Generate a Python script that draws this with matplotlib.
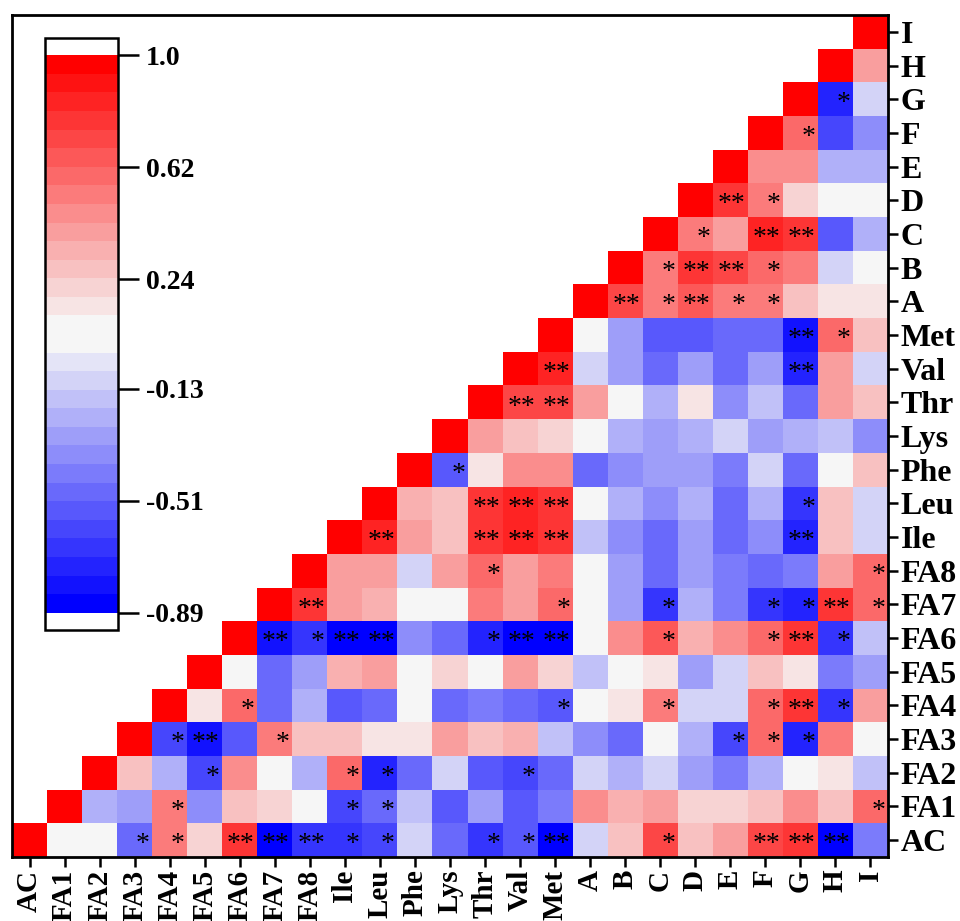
import numpy as np
import matplotlib
matplotlib.use("Agg")
import matplotlib.pyplot as plt
from matplotlib.colors import ListedColormap, BoundaryNorm
from matplotlib.font_manager import FontProperties

labels = ["AC", "FA1", "FA2", "FA3", "FA4", "FA5", "FA6", "FA7", "FA8",
          "Ile", "Leu", "Phe", "Lys", "Thr", "Val", "Met",
          "A", "B", "C", "D", "E", "F", "G", "H", "I"]

# upper triangle, row by row: correlations of row variable with the variables after it
r_AC = [0.05, 0.05, -0.5, 0.55, 0.2, 0.8, -0.85, -0.7, -0.65, -0.6, -0.08, -0.45,
        -0.7, -0.55, -0.85, -0.1, 0.3, 0.7, 0.25, 0.4, 0.72, 0.75, -0.88, -0.4]
r_FA1 = [-0.25, -0.3, 0.5, -0.35, 0.3, 0.2, 0.05, -0.6, -0.5, -0.15, -0.55, -0.3,
         -0.55, -0.4, 0.45, 0.35, 0.4, 0.2, 0.2, 0.3, 0.45, 0.25, 0.6]
r_FA2 = [0.3, -0.25, -0.6, 0.45, 0.05, -0.2, 0.6, -0.72, -0.5, -0.12, -0.55, -0.62,
         -0.5, -0.1, -0.25, -0.12, -0.3, -0.4, -0.2, 0.05, 0.18, -0.15]
r_FA3 = [-0.6, -0.78, -0.55, 0.5, 0.3, 0.25, 0.15, 0.15, 0.38, 0.25, 0.33, -0.15,
         -0.35, -0.5, 0.05, -0.2, -0.6, 0.6, -0.72, 0.55, 0.05]
r_FA4 = [0.15, 0.6, -0.45, -0.25, -0.55, -0.5, 0.05, -0.5, -0.4, -0.45, -0.55,
         0.05, 0.15, 0.55, -0.1, -0.1, 0.6, 0.78, -0.7, 0.4]
r_FA5 = [0.05, -0.45, -0.3, 0.35, 0.4, 0.05, 0.2, 0.05, 0.4, 0.2, -0.15, 0.05,
         0.15, -0.3, -0.1, 0.3, 0.15, -0.4, -0.3]
r_FA6 = [-0.8, -0.65, -0.85, -0.85, -0.35, -0.45, -0.75, -0.85, -0.88, 0.05, 0.45,
         0.65, 0.35, 0.45, 0.6, 0.8, -0.65, -0.15]
r_FA7 = [0.75, 0.4, 0.35, 0.05, 0.05, 0.5, 0.4, 0.6, 0.05, -0.3, -0.65, -0.2, -0.4,
         -0.65, -0.72, 0.78, 0.6]
r_FA8 = [0.4, 0.4, -0.1, 0.4, 0.6, 0.42, 0.5, 0.05, -0.3, -0.5, -0.3, -0.4, -0.45,
         -0.4, 0.4, 0.6]
r_Ile = [0.85, 0.4, 0.3, 0.75, 0.85, 0.8, -0.15, -0.35, -0.5, -0.3, -0.5, -0.35,
         -0.75, 0.3, -0.1]
r_Leu = [0.35, 0.3, 0.75, 0.82, 0.78, 0.05, -0.2, -0.35, -0.2, -0.45, -0.2, -0.7,
         0.3, -0.1]
r_Phe = [-0.55, 0.15, 0.45, 0.45, -0.45, -0.35, -0.3, -0.3, -0.4, -0.12, -0.45,
         0.05, 0.25]
r_Lys = [0.4, 0.3, 0.22, 0.05, -0.22, -0.3, -0.22, -0.12, -0.3, -0.22, -0.15, -0.35]
r_Thr = [0.7, 0.7, 0.38, 0.05, -0.2, 0.12, -0.35, -0.15, -0.5, 0.38, 0.25]
r_Val = [0.85, -0.1, -0.3, -0.45, -0.28, -0.45, -0.28, -0.75, 0.38, -0.1]
r_Met = [0.05, -0.3, -0.55, -0.55, -0.45, -0.45, -0.82, 0.6, 0.3]
r_A = [0.7, 0.55, 0.65, 0.5, 0.55, 0.3, 0.18, 0.18]
r_B = [0.55, 0.75, 0.72, 0.6, 0.5, -0.1, 0.05]
r_C = [0.5, 0.42, 0.85, 0.75, -0.55, -0.25]
r_D = [0.75, 0.55, 0.22, 0.05, 0.05]
r_E = [0.45, 0.45, -0.25, -0.25]
r_F = [0.62, -0.6, -0.35]
r_G = [-0.75, -0.1]
r_H = [0.4]

rows = [r_AC, r_FA1, r_FA2, r_FA3, r_FA4, r_FA5, r_FA6, r_FA7, r_FA8, r_Ile, r_Leu,
        r_Phe, r_Lys, r_Thr, r_Val, r_Met, r_A, r_B, r_C, r_D, r_E, r_F, r_G, r_H, []]

# significance marks: (row, column, mark)
stars = [
    ("AC", "FA3", "*"), ("AC", "FA4", "*"), ("AC", "FA6", "**"), ("AC", "FA7", "**"),
    ("AC", "FA8", "**"), ("AC", "Ile", "*"), ("AC", "Leu", "*"), ("AC", "Thr", "*"),
    ("AC", "Val", "*"), ("AC", "Met", "**"), ("AC", "C", "*"), ("AC", "F", "**"),
    ("AC", "G", "**"), ("AC", "H", "**"),
    ("FA1", "FA4", "*"), ("FA1", "Ile", "*"), ("FA1", "Leu", "*"), ("FA1", "I", "*"),
    ("FA2", "FA5", "*"), ("FA2", "Ile", "*"), ("FA2", "Leu", "*"), ("FA2", "Val", "*"),
    ("FA3", "FA4", "*"), ("FA3", "FA5", "**"), ("FA3", "FA7", "*"), ("FA3", "E", "*"),
    ("FA3", "F", "*"), ("FA3", "G", "*"),
    ("FA4", "FA6", "*"), ("FA4", "Met", "*"), ("FA4", "C", "*"), ("FA4", "F", "*"),
    ("FA4", "G", "**"), ("FA4", "H", "*"),
    ("FA6", "FA7", "**"), ("FA6", "FA8", "*"), ("FA6", "Ile", "**"), ("FA6", "Leu", "**"),
    ("FA6", "Thr", "*"), ("FA6", "Val", "**"), ("FA6", "Met", "**"), ("FA6", "C", "*"),
    ("FA6", "F", "*"), ("FA6", "G", "**"), ("FA6", "H", "*"),
    ("FA7", "FA8", "**"), ("FA7", "Met", "*"), ("FA7", "C", "*"), ("FA7", "F", "*"),
    ("FA7", "G", "*"), ("FA7", "H", "**"), ("FA7", "I", "*"),
    ("FA8", "Thr", "*"), ("FA8", "I", "*"),
    ("Ile", "Leu", "**"), ("Ile", "Thr", "**"), ("Ile", "Val", "**"), ("Ile", "Met", "**"),
    ("Ile", "G", "**"),
    ("Leu", "Thr", "**"), ("Leu", "Val", "**"), ("Leu", "Met", "**"), ("Leu", "G", "*"),
    ("Phe", "Lys", "*"),
    ("Thr", "Val", "**"), ("Thr", "Met", "**"),
    ("Val", "Met", "**"), ("Val", "G", "**"),
    ("Met", "G", "**"), ("Met", "H", "*"),
    ("A", "B", "**"), ("A", "C", "*"), ("A", "D", "**"), ("A", "E", "*"), ("A", "F", "*"),
    ("B", "C", "*"), ("B", "D", "**"), ("B", "E", "**"), ("B", "F", "*"),
    ("C", "D", "*"), ("C", "F", "**"), ("C", "G", "**"),
    ("D", "E", "**"), ("D", "F", "*"),
    ("F", "G", "*"), ("G", "H", "*"),
]

cbar_ticks = [1.0, 0.62, 0.24, -0.13, -0.51, -0.89]

# build matrix
n = len(labels)
M = np.full((n, n), np.nan)
for i, r in enumerate(rows):
    M[i, i] = 1.0
    for k, v in enumerate(r):
        M[i, i + 1 + k] = v

# discrete blue-white-red colormap, 30 levels
nlev = 30
half = nlev // 2
blue = np.array([0.0, 0.0, 1.0])
red = np.array([1.0, 0.0, 0.0])
mid = np.array([0.965, 0.965, 0.965])
cols = []
for k in range(half):
    t = k / (half - 1)
    cols.append((1 - t) * blue + t * mid)
for k in range(half):
    t = k / (half - 1)
    cols.append((1 - t) * mid + t * red)
cmap = ListedColormap(cols)
cmap.set_over("white")
cmap.set_under("white")
cmap.set_bad("white")
bounds = np.linspace(-0.89, 1.0, nlev + 1)
norm = BoundaryNorm(bounds, nlev)

fig = plt.figure(figsize=(9.6, 9.21), dpi=100)
W, H = 960, 921
ax = fig.add_axes([12 / W, (H - 857) / H, 876 / W, 842 / H])

data = np.ma.masked_invalid(np.clip(M, -0.889, 0.999))
ax.pcolormesh(np.arange(n + 1), np.arange(n + 1), data, cmap=cmap, norm=norm)
ax.set_xlim(0, n)
ax.set_ylim(0, n)

for (rl, cl, mark) in stars:
    i = labels.index(rl)
    j = labels.index(cl)
    ax.text(j + 0.93, i + 0.36, mark, ha="right", va="center", fontsize=20,
            family="Liberation Serif", color="black")

ax.set_xticks(np.arange(n) + 0.5)
ax.set_xticklabels(labels, rotation=90, family="Liberation Serif", weight="bold", size=21)
ax.yaxis.tick_right()
ax.set_yticks(np.arange(n) + 0.5)
ax.set_yticklabels(labels, family="Liberation Serif", weight="bold", size=23)
ax.tick_params(axis="both", direction="out", length=7, width=1.8, pad=2)
for s in ax.spines.values():
    s.set_linewidth(2)

cax = fig.add_axes([45 / W, (H - 630) / H, 73 / W, 592 / H])
sm = plt.cm.ScalarMappable(cmap=cmap, norm=norm)
cb = fig.colorbar(sm, cax=cax, extend="both", extendrect=True, extendfrac=0.031,
                  drawedges=False)
cb.set_ticks(cbar_ticks)
cb.set_ticklabels([f"{t:.2f}" if t != 1.0 else "1.0" for t in cbar_ticks])
cb.outline.set_linewidth(1.8)
cax.minorticks_off()
cax.tick_params(length=15, width=1.8, pad=5)
for t in cax.get_yticklabels():
    t.set_fontproperties(FontProperties(family="Liberation Serif", weight="bold", size=20))

fig.savefig("out.png", dpi=100)
